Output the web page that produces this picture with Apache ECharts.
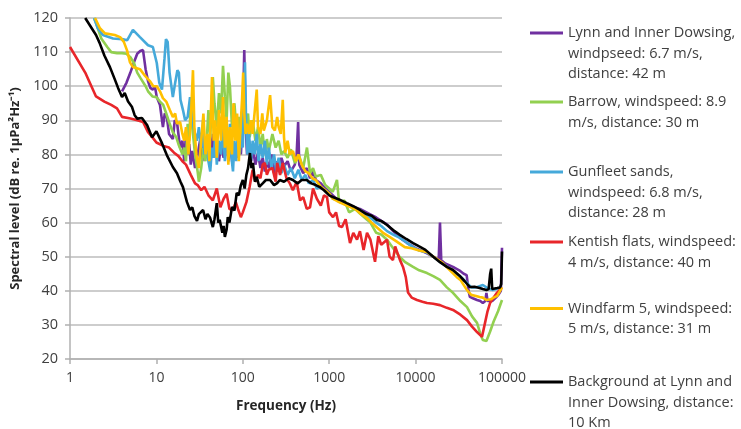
<!DOCTYPE html>
<html>
<head>
<meta charset="utf-8">
<script src="https://cdn.jsdelivr.net/npm/echarts@6/dist/echarts.min.js"></script>
<style>html,body{margin:0;padding:0;background:#fff}#c{width:741px;height:429px}</style>
</head>
<body>
<div id="c"></div>
<script>
const xTicks = [1, 10, 100, 1000, 10000, 100000];
const yTicks = [20, 120, 10]; // min, max, step

const seriesNames = [
  'Lynn and Inner Dowsing,\nwindpseed: 6.7 m/s,\ndistance: 42 m',
  'Barrow, windspeed: 8.9\nm/s, distance: 30 m',
  'Gunfleet sands,\nwindspeed: 6.8 m/s,\ndistance: 28 m',
  'Kentish flats, windspeed:\n4 m/s, distance: 40 m',
  'Windfarm 5, windspeed:\n5 m/s, distance: 31 m',
  'Background at Lynn and\nInner Dowsing, distance:\n10 Km'
];
const seriesColors = ['#7030a0', '#92d050', '#45a9da', '#e8262a', '#ffc000', '#000000'];

// [frequency Hz, dB]
const lynn = [[4,98.5],[4.5,101],[5,104],[5.5,107],[6,109.5],[6.5,110.3],[7,110.6],[7.5,105],[8,101.5],[8.5,99.5],[9.1,99],[9.6,100],[10.1,96.8],[11,94.5],[11.9,88],[12.5,92],[13.2,91],[14,86],[15.5,84.5],[16.3,90],[17.3,89.5],[18.8,82],[20,84],[21,78],[22,86],[23,80],[24,83],[25,77],[26,81],[28,76],[30,80],[32,84],[34,78],[36,85],[38,79],[40,83],[42,77],[45,86],[47,80],[50,84],[53,78],[56,83],[60,79],[64,86],[68,78],[72,83],[76,77],[80,82],[85,79],[90,84],[95,80],[100,90],[104,110.6],[108,88],[112,80],[118,84],[125,78],[130,82],[140,77],[150,80.5],[160,76],[170,79],[180,75],[190,78],[200,76],[215,80],[230,74.5],[245,78],[260,75],[280,79],[300,76.5],[330,78],[360,75],[400,77],[420,80],[437,89.5],[450,77],[500,74.5],[550,76],[600,73],[650,75],[700,72.5],[800,71.5],[900,70],[1000,69],[1150,67.5],[1300,66.5],[1500,65.5],[1800,64.8],[2270,64],[2950,62.5],[3500,61.5],[4000,60.5],[4670,59.5],[5500,57.5],[6600,55.5],[8000,54],[10000,52.5],[13550,51],[16000,50],[18500,49],[19150,60],[19800,49],[22000,48],[27100,47],[32000,46],[36000,45],[39000,44.6],[40000,45],[41000,40],[42500,38.2],[46000,37.8],[51400,37.3],[56000,37],[60000,36.4],[64000,37],[66000,39.4],[68000,37],[77000,37],[85000,38],[92000,39],[97000,40],[100000,52.6]];

const barrow = [[1.9,120],[2,118.5],[2.3,114],[2.7,111.5],[3,110],[3.5,109.7],[4,109.7],[4.5,109.5],[5,108.5],[5.5,106.8],[6,104],[6.5,102.5],[7.5,100],[8,98.5],[9,97],[10,96.8],[11,95.5],[12,94.5],[13,92],[14,89.5],[15.5,86.5],[17,85],[18,83],[20,80],[21,82],[22,78],[23,89],[24,84],[25,96],[26,88],[28,80],[30,75],[31,72],[33,76],[35,82],[37,78],[40,93],[42,85],[45,102.7],[47,95],[50,88],[53,98],[56,92],[59,106],[62,97],[65,90],[68,104],[71,99.8],[75,88],[80,95],[85,86],[90,91],[95,84],[100,93],[105,86],[110,89],[115,92],[120,85],[130,90],[140,84],[150,88],[160,82],[170,86],[180,80],[190,84.5],[200,81],[220,86],[240,82],[260,84],[280,80],[300,81],[330,79],[360,81.5],[400,77.5],[450,79.5],[500,76],[553,82],[600,74.5],[650,76],[700,73.5],[800,74],[900,71],[1000,70],[1100,69],[1230,72.5],[1300,66],[1500,66.5],[1700,63],[2000,64],[2300,62.5],[2700,61],[3000,60],[3500,57],[4000,56.5],[4670,55],[5500,52.5],[6090,51],[6500,50],[7500,48.5],[9350,47],[11000,46],[13550,45.2],[16000,44.3],[19150,43.2],[23000,41],[27100,39.4],[33000,37],[39360,35.2],[45000,32.5],[51400,30.6],[56000,27.5],[60000,25.6],[66000,25.3],[72700,28],[80000,31],[90000,34],[100000,37.3]];

const gunfleet = [[1.9,120],[2.1,117],[2.4,115],[3.15,114],[4,113.8],[4.6,113.5],[5.35,116.5],[6.45,114.4],[8,112],[9.1,111.5],[10.1,106.8],[10.8,101],[11.6,99],[12.4,108],[12.9,113.8],[13.5,113],[14.2,104],[15.5,96.8],[16.5,101],[17.5,104.7],[18.2,104],[19,96],[20.3,93],[21.5,90],[23,91],[24.5,96.8],[26,90],[28,86],[29.5,84],[31,88],[33,82],[34.7,90],[36,80],[38,85],[40,78],[42,75],[44,82],[46,79],[48,86],[50,77],[53,84],[56,80],[59,88],[62,78],[65,86],[68,81],[71,89],[74,79],[77,75],[80,84],[84,78],[88,87],[92,80],[96,86],[100,82],[103,96],[106,107],[109,90],[113,80],[118,86],[124,78],[130,84],[137,80],[145,86],[152,78],[160,83],[170,79],[180,84],[190,77],[200,82],[215,76],[230,80],[245,75],[260,79],[280,74.5],[300,77],[330,74],[360,76],[400,73],[440,75.5],[480,72.5],[530,74],[580,71.5],[650,72.5],[720,70],[800,70.5],[900,69.5],[1000,68.5],[1100,67],[1300,66.5],[1500,65.7],[1800,64.5],[2270,63.7],[2800,62],[3500,60],[4000,59],[4670,57.5],[5500,56.5],[6600,55.5],[8000,54],[9350,52.8],[11000,51.8],[13550,51.2],[16000,50],[19150,48.5],[22000,47.5],[27100,45.5],[33000,44.2],[39360,42.3],[44000,41],[50000,41],[60000,41.7],[66000,41],[72000,40.5],[78000,40.2],[85000,40.5],[92000,40.8],[100000,40.8]];

const kentish = [[1,111.5],[1.5,104],[2,97],[2.5,95.5],[3,94.5],[3.5,93.5],[4,91],[5,90.5],[6,90],[7,89.5],[8,86.5],[9,85],[10,83.5],[12,82.5],[14,82],[16,80.5],[18,79.5],[20,78],[22,77],[25,74],[28,71.5],[30,71],[33,69.5],[36,70.5],[40,68],[45,66.5],[50,70],[55,64.5],[60,67],[65,68.5],[70,64],[77,63.7],[83,66],[88,64],[95,61.6],[100,63],[110,66],[120,70.5],[130,75.5],[140,72],[150,74],[160,73],[170,77],[180,77.5],[190,74],[200,75.5],[220,76],[240,72],[250,77.5],[270,74],[290,77.5],[320,73],[350,71.5],[380,69.5],[420,72],[460,66.5],[500,67.5],[550,64],[600,64.5],[650,70],[720,67],[800,65],[870,68],[943,67.5],[1000,63],[1107,61.6],[1200,63],[1300,59],[1407,58.7],[1550,61],[1741,54],[1900,57],[2100,55],[2270,57.5],[2500,52],[2740,57],[3000,55],[3390,48.5],[3700,56],[4000,53.5],[4670,55],[5000,50],[5470,49],[5800,53],[6090,53],[6600,49],[7150,47],[7700,44],[8170,39.5],[9000,38],[10380,37.3],[12000,36.8],[13550,36.4],[16000,36.2],[19150,35.8],[23000,35],[27100,34.4],[33000,33],[39360,31.4],[45000,29.5],[51400,27.9],[58700,26.5],[63600,30.6],[68000,34],[72700,36.4],[80000,38],[87500,39.4],[100000,41]];

const windfarm5 = [[1.95,120],[2.22,117],[2.54,115.5],[3.3,115],[3.8,114.4],[4.2,113],[4.57,110.5],[4.95,107],[5.35,105.6],[6.45,105],[7.4,103],[8.4,101.5],[9.2,100],[10.1,100],[11,98.5],[11.9,96.5],[13,95.5],[14.3,93],[15.5,91],[16.5,92],[17.3,89],[18.8,89.5],[20,86],[21,84],[22,88],[23.5,80],[25,90],[26.5,104.7],[27.5,88],[29,80],[31,76],[33,84],[35,92],[37,80],[39,86],[41,78],[44,102.7],[46,84],[48,90],[50,79],[53,93],[56,84],[59,96.8],[62,82],[65,91],[68,77],[71,88],[75,80],[78,95],[82,84],[86,92],[90,78],[94,88],[98,96],[101,104],[104,92],[108,86],[112,89],[118,86],[124,90],[130,86],[145,99],[150,88],[160,86],[168,92],[175,87],[190,90],[207,97.4],[220,88],[235,87],[250,91],[260,88],[275,86],[290,96],[300,85],[310,80.5],[330,84],[350,80],[380,81],[410,78],[440,80],[480,77],[530,75],[580,74.5],[640,73],[700,72.5],[800,70.5],[900,69.5],[1000,68.5],[1100,67],[1300,66],[1600,65],[2000,64],[2270,62.8],[2700,61.5],[3100,60],[3600,58.5],[4200,57],[5000,55.8],[6000,54.5],[7500,52.8],[9000,52.5],[11000,51.8],[13550,51.4],[16000,50],[20500,48.2],[25000,46],[30000,44],[33000,43.2],[39360,40.2],[44000,38.8],[50000,38.5],[55000,38.2],[60000,38],[66000,37.3],[74000,37.5],[80000,38],[88000,38.5],[95000,40],[100000,41]];

const background = [[1.5,120],[2,115],[2.2,112.7],[2.5,109],[2.9,105.6],[3.3,102],[3.6,99.5],[4,96.8],[4.3,98],[4.7,95.5],[5.2,94],[5.6,91.5],[6,90.5],[6.8,90.7],[7.8,88.6],[8.9,85],[10,86.8],[11.6,83.3],[13.2,79.8],[15.5,76.3],[17.3,74.5],[19,72],[20.3,70.4],[22.6,66],[24.5,63.7],[26,64.5],[27.5,62],[29.5,60.5],[31,62.5],[34.7,63.7],[37,61],[39,62.5],[41.7,61.5],[45,58.7],[47,61],[50,65.7],[52,60],[54,60.8],[58,57],[60,59],[62,55.8],[65,58],[67,61.6],[70,60],[75,64.6],[80,63.5],[85,68.7],[90,68],[95,71],[100,72.5],[105,70],[110,74],[115,76],[121,80.4],[126,76],[131,77.5],[138,72],[145,73.4],[155,70.5],[171,71.6],[185,72.5],[207,72.5],[230,71],[250,71.6],[268,72.5],[300,72],[340,73],[380,72.5],[430,71.5],[480,72.5],[550,72.5],[620,71.5],[700,71],[780,70.4],[870,69.5],[1000,68],[1100,67.5],[1300,66.8],[1600,65.7],[1900,64.8],[2270,63.7],[2700,62.5],[3100,62],[3550,60.8],[4000,60.5],[4670,59.3],[5500,57.8],[6500,56.5],[7800,55.2],[9350,54],[11000,53],[13000,52],[16000,50],[19150,48.4],[23000,47],[27100,46.1],[32000,44.5],[37000,42.8],[42500,41.1],[48000,41.2],[55000,40.8],[60000,40.5],[66000,40.2],[70000,40.5],[73000,45],[75000,46.5],[77000,40.5],[81000,40],[88000,40.8],[95000,41],[98000,42],[100000,51.5]];

const allData = [lynn, barrow, gunfleet, kentish, windfarm5, background];
const legendFirstLineY = [33, 102, 172, 242, 308.5, 382];

const LH = 20.5;
const chart = echarts.init(document.getElementById('c'), null, {renderer: 'canvas'});
const legends = seriesNames.map((name, i) => {
  const n = name.split('\n').length;
  return {
    left: 530,
    top: legendFirstLineY[i] - (2 * n - 1) * LH / 2,
    padding: 0,
    orient: 'vertical',
    itemWidth: 33,
    itemHeight: 3,
    icon: 'rect',
    selectedMode: false,
    data: [name],
    formatter: nm => '\n'.repeat(n - 1) + nm,
    textStyle: {
      fontFamily: 'Open Sans',
      fontSize: 14.5,
      color: '#404040',
      lineHeight: LH
    }
  };
});

chart.setOption({
  animation: false,
  backgroundColor: '#ffffff',
  grid: {left: 70, right: 239, top: 18, bottom: 70, containLabel: false},
  legend: legends,
  xAxis: {
    type: 'log',
    logBase: 10,
    min: xTicks[0],
    max: xTicks[xTicks.length - 1],
    name: 'Frequency (Hz)',
    nameLocation: 'middle',
    nameGap: 40,
    nameTextStyle: {fontFamily: 'Open Sans', fontWeight: 'bold', fontSize: 13.5, color: '#262626'},
    axisLine: {lineStyle: {color: '#b0b0b0', width: 1.5}},
    axisTick: {show: true, length: 5, lineStyle: {color: '#b0b0b0', width: 1.5}},
    minorTick: {show: false},
    splitLine: {show: false},
    axisLabel: {
      margin: 12,
      fontFamily: 'Open Sans', fontSize: 14, color: '#404040',
      formatter: v => String(Math.round(v))
    }
  },
  yAxis: {
    type: 'value',
    min: yTicks[0],
    max: yTicks[1],
    interval: yTicks[2],
    name: 'Spectral level (dB re. 1µPa²Hz⁻¹)',
    nameLocation: 'middle',
    nameGap: 45,
    nameTextStyle: {fontFamily: 'Open Sans', fontWeight: 'bold', fontSize: 13, color: '#262626'},
    axisLine: {show: true, lineStyle: {color: '#b0b0b0', width: 1.5}},
    axisTick: {show: true, length: 5, lineStyle: {color: '#b0b0b0', width: 1.5}},
    splitLine: {show: true, lineStyle: {color: '#bdbdbd', width: 1.5}},
    axisLabel: {margin: 12, fontFamily: 'Open Sans', fontSize: 14.5, color: '#404040'}
  },
  series: seriesNames.map((name, i) => ({
    name: name,
    type: 'line',
    data: allData[i],
    showSymbol: false,
    symbol: 'none',
    clip: true,
    color: seriesColors[i],
    lineStyle: {color: seriesColors[i], width: 2.6},
    emphasis: {disabled: true}
  }))
});
</script>
</body>
</html>
